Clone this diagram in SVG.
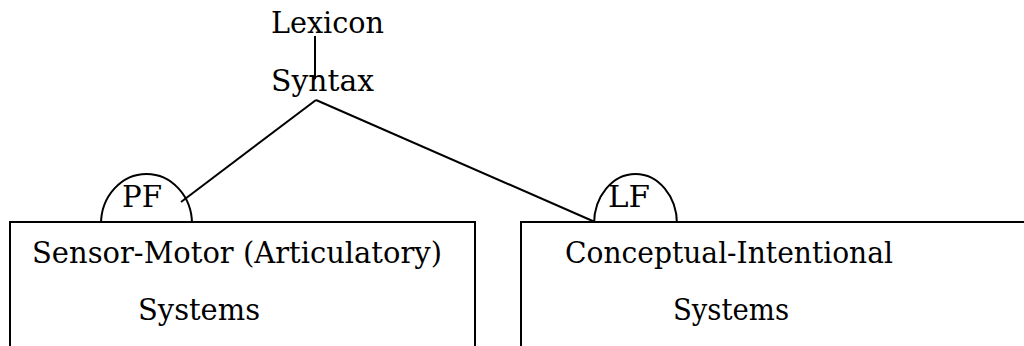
<svg xmlns="http://www.w3.org/2000/svg" width="1024" height="346" viewBox="0 0 1024 346">
<style>
.t{font-family:"DejaVu Serif","Liberation Serif",serif;font-size:30px;fill:#000}
.s{fill:none;stroke:#000;stroke-width:2}
.b{fill:#fff;stroke:#000;stroke-width:2}
</style>
<rect width="1024" height="346" fill="#fff"/>
<g id="lexicon"><text class="t" x="271" y="33" textLength="113" lengthAdjust="spacingAndGlyphs">Lexicon</text></g>
<g id="syntax"><text class="t" x="271" y="91" textLength="103" lengthAdjust="spacingAndGlyphs">Syntax</text></g>
<g id="pf"><ellipse class="s" cx="146.5" cy="224" rx="45.5" ry="50"/><text class="t" x="122" y="207" textLength="40" lengthAdjust="spacingAndGlyphs">PF</text></g>
<g id="lf"><ellipse class="s" cx="635.5" cy="224" rx="41.5" ry="50"/><text class="t" x="608" y="207" textLength="42" lengthAdjust="spacingAndGlyphs">LF</text></g>
<g id="connectors">
<line class="s" x1="315" y1="36" x2="315" y2="79"/>
<line class="s" x1="316" y1="100" x2="181" y2="202"/>
<line class="s" x1="316" y1="100" x2="595" y2="222"/>
</g>
<g id="sensor-motor"><rect class="b" x="10" y="222" width="465" height="140"/>
<text class="t" x="32" y="263" textLength="410" lengthAdjust="spacingAndGlyphs">Sensor-Motor (Articulatory)</text>
<text class="t" x="138" y="320" textLength="122" lengthAdjust="spacingAndGlyphs">Systems</text></g>
<g id="conceptual-intentional"><rect class="b" x="521" y="222" width="520" height="140"/>
<text class="t" x="565" y="263" textLength="328" lengthAdjust="spacingAndGlyphs">Conceptual-Intentional</text>
<text class="t" x="673" y="320" textLength="116" lengthAdjust="spacingAndGlyphs">Systems</text></g>
</svg>
